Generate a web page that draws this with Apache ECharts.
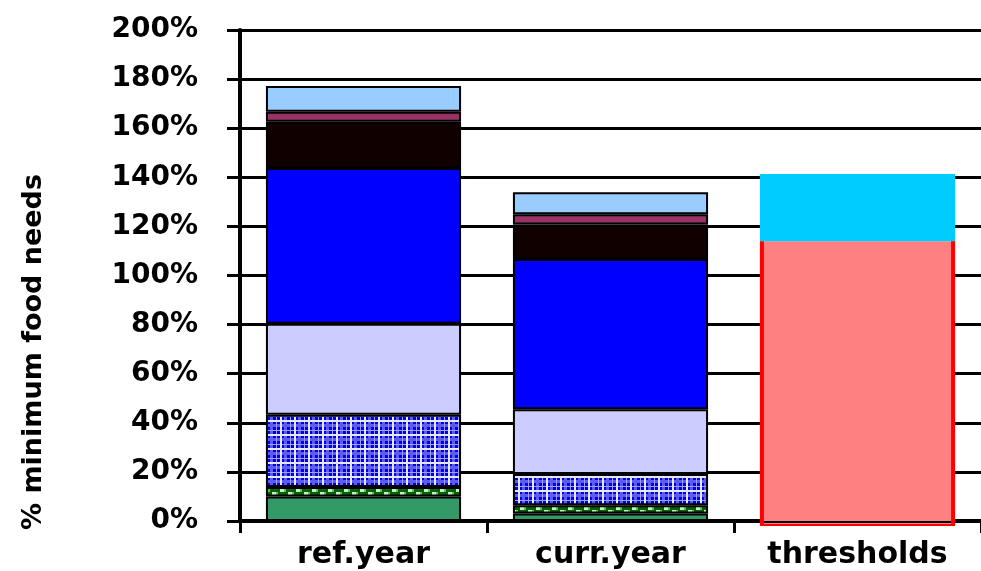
<!DOCTYPE html>
<html>
<head>
<meta charset="utf-8">
<script src="https://cdn.jsdelivr.net/npm/echarts@6/dist/echarts.min.js"></script>
<style>
html,body{margin:0;padding:0;background:#fff;}
#chart{width:981px;height:571px;}
</style>
</head>
<body>
<div id="chart"></div>
<script>
// ---- data ----
const categories = ['ref.year', 'curr.year', 'thresholds'];
const yTicks = ['0%', '20%', '40%', '60%', '80%', '100%', '120%', '140%', '160%', '180%', '200%'];
const greenVals     = [10.0, 3.1, '-'];
const checkerVals   = [3.8, 3.3, '-'];
const plaidVals     = [29.5, 12.7, '-'];
const lavenderVals  = [37.0, 26.4, '-'];
const blueVals      = [63.5, 61.2, '-'];
const blackVals     = [18.8, 14.1, '-'];
const maroonVals    = [4.1, 4.1, '-'];
const lightBlueVals = [10.5, 9.0, '-'];
const pinkVals      = ['-', '-', 114.0];
const cyanVals      = ['-', '-', 27.3];
const yTitle = '% minimum food needs';

// ---- pattern fills ----
function plaidPattern() {
  const c = document.createElement('canvas');
  c.width = 14; c.height = 14;
  const g = c.getContext('2d');
  g.fillStyle = '#0000e0'; g.fillRect(0, 0, 14, 14);
  g.fillStyle = '#5c5cf0';
  g.fillRect(4, 0, 3, 14); g.fillRect(0, 4, 14, 3);
  g.fillStyle = '#a0a0fa';
  g.fillRect(10, 0, 1, 14); g.fillRect(0, 10, 14, 1);
  g.fillStyle = '#e6e6ff';
  g.fillRect(0, 0, 2, 14); g.fillRect(0, 0, 14, 2);
  return { image: c, repeat: 'repeat' };
}
function checkerPattern() {
  const c = document.createElement('canvas');
  c.width = 16; c.height = 6;
  const g = c.getContext('2d');
  g.fillStyle = '#006600'; g.fillRect(0, 0, 16, 6);
  g.fillStyle = '#cdeecd';
  g.fillRect(0, 0, 4, 3); g.fillRect(8, 3, 4, 3);
  g.fillStyle = '#6faf6f';
  g.fillRect(4, 0, 2, 3); g.fillRect(12, 3, 2, 3);
  return { image: c, repeat: 'repeat' };
}

const font = '"DejaVu Sans", "Liberation Sans", Arial, sans-serif';
const BAR_RATIO = 0.79;
function seg(name, data, color, extra) {
  return Object.assign({
    name: name, type: 'bar', stack: 'total', data: data,
    barWidth: (BAR_RATIO * 100) + '%',
    itemStyle: { color: color, borderColor: '#000', borderWidth: 2 },
    emphasis: { disabled: true }
  }, extra || {});
}

const chart = echarts.init(document.getElementById('chart'));
chart.setOption({
  animation: false,
  backgroundColor: '#fff',
  grid: { left: 240, right: -3, top: 30, bottom: 50, containLabel: false },
  xAxis: {
    type: 'category',
    data: categories,
    axisLine: { lineStyle: { color: '#000', width: 4 } },
    axisTick: { show: true, length: 12, lineStyle: { color: '#000', width: 3 } },
    axisLabel: { color: '#000', fontFamily: font, fontWeight: 'bold', fontSize: 30, margin: 19 }
  },
  yAxis: {
    type: 'value', min: 0, max: 200, interval: 20,
    axisLine: { show: true, lineStyle: { color: '#000', width: 4 } },
    axisTick: { show: true, length: 13, lineStyle: { color: '#000', width: 3 } },
    splitLine: { show: true, lineStyle: { color: '#000', width: 3 } },
    axisLabel: {
      color: '#000', fontFamily: font, fontWeight: 'bold', fontSize: 28, margin: 42,
      formatter: function (v) { return yTicks[Math.round(v / 20)]; }
    }
  },
  graphic: [{
    type: 'text', x: 34, y: 352, rotation: Math.PI / 2,
    style: { text: yTitle, font: 'bold 27px ' + font, fill: '#000', align: 'center', verticalAlign: 'middle' }
  }],
  series: [
    seg('green', greenVals, '#339966'),
    seg('checker', checkerVals, checkerPattern()),
    seg('plaid', plaidVals, plaidPattern()),
    seg('lavender', lavenderVals, '#ccccff'),
    seg('blue', blueVals, '#0000ff'),
    seg('black', blackVals, '#100000'),
    seg('maroon', maroonVals, '#993366'),
    seg('lightblue', lightBlueVals, '#99ccff'),
    seg('pink', pinkVals, '#ff8080', { itemStyle: { color: '#ff8080', borderWidth: 0 } }),
    seg('cyan', cyanVals, '#00ccff', { itemStyle: { color: '#00ccff', borderWidth: 0 } }),
    {
      // red outline on left, bottom and right of the pink threshold bar
      name: 'pinkOutline', type: 'custom', z: 3,
      data: categories.map(function (c, i) { return [i, pinkVals[i]]; }),
      renderItem: function (params, api) {
        const v = api.value(1);
        if (isNaN(v)) return null;
        const top = api.coord([api.value(0), v]);
        const base = api.coord([api.value(0), 0]);
        const bw = api.size([1, 0])[0] * BAR_RATIO;
        const x0 = top[0] - bw / 2, x1 = top[0] + bw / 2;
        const red = { fill: '#ff0000' };
        return {
          type: 'group',
          children: [
            { type: 'rect', shape: { x: x0, y: top[1], width: 4, height: base[1] + 5 - top[1] }, style: red },
            { type: 'rect', shape: { x: x1 - 4, y: top[1], width: 4, height: base[1] + 5 - top[1] }, style: red },
            { type: 'rect', shape: { x: x0, y: base[1] + 2.5, width: bw, height: 2.5 }, style: red }
          ]
        };
      }
    }
  ]
});
</script>
</body>
</html>
